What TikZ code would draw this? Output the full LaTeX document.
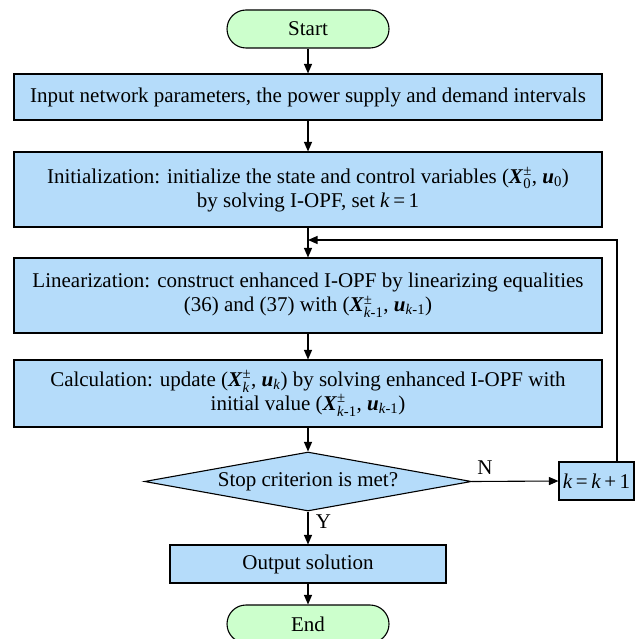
\documentclass[tikz,border=0pt]{standalone}
\usepackage{fontspec}
\setmainfont{Liberation Serif}
\usepackage{amsmath}
\usetikzlibrary{shapes.geometric,arrows.meta}
\definecolor{boxblue}{RGB}{181,220,250}
\definecolor{termgreen}{RGB}{204,255,204}
\newcommand\bX{\textbf{\textit{X}}}
\newcommand\bu{\textbf{\textit{u}}}
\newcommand\pmsub[1]{$^{\text{±}}_{\text{#1}}$}
\newcommand\ssub[1]{$_{\text{#1}}$}
\begin{document}
\begin{tikzpicture}[x=1pt,y=1pt,
  every node/.style={font=\fontsize{21}{24}\selectfont},
  procbox/.style={draw=black,line width=1.1pt,fill=boxblue,rectangle,inner sep=0pt,align=center},
  termbox/.style={draw=black,line width=1.1pt,fill=termgreen,rectangle,rounded corners=19pt,minimum width=162pt,minimum height=38pt,inner sep=0pt},
  decbox/.style={draw=black,line width=1.1pt,fill=boxblue,diamond,shape aspect=5.5,minimum width=327pt,minimum height=59pt,inner sep=0pt},
  flow/.style={draw=black,line width=1.1pt,-{Triangle[length=9.5pt,width=8pt]}},
  lbl/.style={font=\fontsize{21}{24}\selectfont}
]
\useasboundingbox (0,0) rectangle (638,-639);
\node[termbox] (start) at (308,-29) {Start};
\node[procbox,minimum width=588pt,minimum height=46pt] (input) at (308,-97) {Input network parameters, the power supply and demand intervals};
\node[procbox,minimum width=588pt,minimum height=75pt] (init) at (308,-189.5) {Initialization: initialize the state and control variables (\bX\pmsub{0}, \bu\ssub{0})\\by solving I-OPF, set \textit{k}\,=\,1};
\node[procbox,minimum width=588pt,minimum height=75pt] (lin) at (308,-295.5) {Linearization: construct enhanced I-OPF by linearizing equalities\\(36) and (37) with (\bX\pmsub{\textit{k}-1}, \bu\ssub{\textit{k}-1})};
\node[procbox,minimum width=588pt,minimum height=67pt] (calc) at (308,-393.5) {Calculation: update (\bX\pmsub{\textit{k}}, \bu\ssub{\textit{k}}) by solving enhanced I-OPF with\\initial value (\bX\pmsub{\textit{k}-1}, \bu\ssub{\textit{k}-1})};
\node[decbox] (dec) at (308,-481.5) {Stop criterion is met?};
\node[procbox,minimum width=75pt,minimum height=38pt] (inc) at (596.5,-481) {\textit{k}\,=\,\textit{k}\,+\,1};
\node[procbox,minimum width=276pt,minimum height=38pt] (out) at (308,-564) {Output solution};
\node[termbox] (end) at (308,-624) {End};
\coordinate (loopx) at (617,-481);
\coordinate (join) at (308,-240);
\draw[flow] (start) -- (input);
\draw[flow] (input) -- (init);
\draw[flow] (init) -- (lin);
\draw[flow] (lin) -- (calc);
\draw[flow] (calc) -- (dec);
\draw[flow] (dec) -- node[lbl,pos=0.3,right=4pt] {Y} (out);
\draw[flow] (out) -- (end);
\draw[flow] (dec.east) -- node[lbl,pos=0.15,above=3pt] {N} (inc.west);
\draw[flow] (inc.north -| loopx) |- (join);
\end{tikzpicture}
\end{document}
